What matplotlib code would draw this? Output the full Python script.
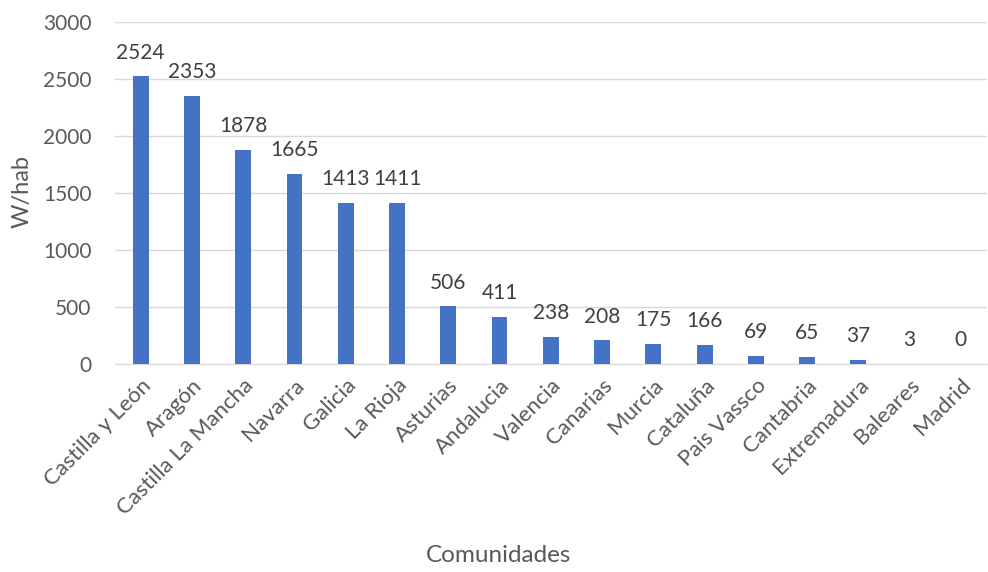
import matplotlib
matplotlib.use("Agg")
import matplotlib.pyplot as plt

comunidades = ["Castilla y León", "Aragón", "Castilla La Mancha", "Navarra", "Galicia",
               "La Rioja", "Asturias", "Andalucia", "Valencia", "Canarias", "Murcia",
               "Cataluña", "Pais Vassco", "Cantabria", "Extremadura", "Baleares", "Madrid"]
w_hab = [2524, 2353, 1878, 1665, 1413, 1411, 506, 411, 238, 208, 175, 166, 69, 65, 37, 3, 0]
y_ticks = [0, 500, 1000, 1500, 2000, 2500, 3000]

plt.rcParams['font.family'] = ['Lato', 'DejaVu Sans']

fig = plt.figure(figsize=(9.88, 5.72), dpi=100)
ax = fig.add_axes([0.1165, 0.3636, 0.882, 0.598])

x = range(len(comunidades))
bars = ax.bar(x, w_hab, width=0.31, color="#4472C4", zorder=3)
for xi, v in zip(x, w_hab):
    ax.text(xi, v + 120, str(v), ha="center", va="bottom", fontsize=15, color="#404040")

ax.set_xlim(-0.5, len(comunidades) - 0.5)
ax.set_ylim(0, 3000)
ax.set_yticks(y_ticks)
ax.set_yticklabels([str(t) for t in y_ticks], fontsize=15, color="#595959")
ax.set_xticks(list(x))
ax.set_xticklabels(comunidades, rotation=45, ha="right", rotation_mode="anchor",
                   fontsize=16, color="#595959")
ax.tick_params(axis="both", length=0)
ax.tick_params(axis="y", pad=17)
ax.tick_params(axis="x", pad=8)

ax.grid(axis="y", color="#D9D9D9", linewidth=1, zorder=0)
for s in ["top", "right", "left"]:
    ax.spines[s].set_visible(False)
ax.spines["bottom"].set_color("#D9D9D9")

fig.text(0.022, 0.665, "W/hab", rotation=90, ha="center", va="center", fontsize=17, color="#595959")
fig.text(0.505, 0.028, "Comunidades", ha="center", va="center", fontsize=17.5, color="#595959")

fig.savefig("out.png", dpi=100)
